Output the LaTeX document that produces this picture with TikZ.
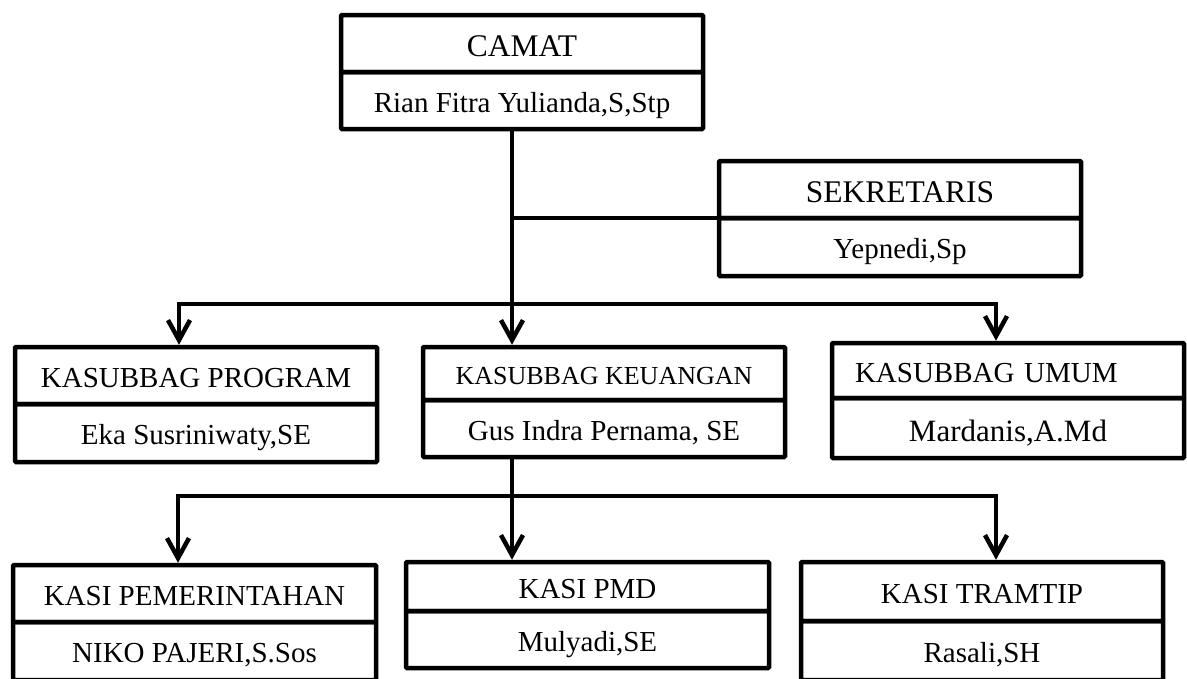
\documentclass[tikz,border=0pt]{standalone}
\usepackage{fontspec}
\setmainfont{Liberation Serif}
\usetikzlibrary{arrows.meta}
\begin{document}
\begin{tikzpicture}[x=1pt,y=-1pt,
  cell/.style={draw, line width=4.5pt, rounded corners=1pt, inner sep=0pt, outer sep=0pt,
    anchor=north west, font=\fontsize{29pt}{32pt}\selectfont, text height=23pt, text depth=0pt, align=center},
  big/.style={font=\fontsize{31.5pt}{34pt}\selectfont, text height=25pt},
  small/.style={font=\fontsize{26pt}{29pt}\selectfont, text height=21.5pt},
  conn/.style={line width=4.5pt},
  tip/.tip={Straight Barb[length=20pt,width=22pt,line width=4.5pt]},
  arr/.style={conn, -tip, shorten >=2.25pt},
  darr/.style={conn, tip-tip, shorten >=2.25pt, shorten <=2.25pt},
]
\useasboundingbox (0,0) rectangle (1187,678);
\clip (0,0) rectangle (1187,678);

% CAMAT
\node[cell, big, minimum width=362pt, minimum height=57pt] (camH) at (341,15) {CAMAT};
\node[cell, minimum width=362pt, minimum height=57pt] (camN) at (341,72) {Rian Fitra Yulianda,S,Stp};
% SEKRETARIS
\node[cell, big, minimum width=362pt, minimum height=57pt] (sekH) at (719,161) {SEKRETARIS};
\node[cell, minimum width=362pt, minimum height=58pt] (sekN) at (719,218) {Yepnedi,Sp};
% KASUBBAG PROGRAM
\node[cell, minimum width=362pt, minimum height=57pt] (proH) at (15,347) {KASUBBAG PROGRAM};
\node[cell, minimum width=362pt, minimum height=58pt] (proN) at (15,404) {Eka Susriniwaty,SE};
% KASUBBAG KEUANGAN
\node[cell, small, minimum width=362pt, minimum height=53pt] (keuH) at (423,347) {KASUBBAG KEUANGAN};
\node[cell, minimum width=362pt, minimum height=57pt] (keuN) at (423,400) {Gus Indra Pernama, SE};
% KASUBBAG UMUM
\node[cell, minimum height=55pt, text width=306pt, inner xsep=23pt, align=left] (umuH) at (832,343) {KASUBBAG UMUM};
\node[cell, font=\fontsize{31pt}{34pt}\selectfont, text height=27pt, minimum width=352pt, minimum height=60pt] (umuN) at (832,398) {Mardanis,A.Md};
% KASI PEMERINTAHAN
\node[cell, minimum width=363pt, minimum height=57pt] (pemH) at (13,565) {KASI PEMERINTAHAN};
\node[cell, minimum width=363pt, minimum height=58pt] (pemN) at (13,622) {NIKO PAJERI,S.Sos};
% KASI PMD
\node[cell, minimum width=363pt, minimum height=49pt] (pmdH) at (406,562) {KASI PMD};
\node[cell, minimum width=363pt, minimum height=57pt] (pmdN) at (406,611) {Mulyadi,SE};
% KASI TRAMTIP
\node[cell, minimum width=362pt, minimum height=59pt] (traH) at (801,562) {KASI TRAMTIP};
\node[cell, minimum width=362pt, minimum height=59pt] (traN) at (801,621) {Rasali,SH};

% connectors
\coordinate (trunk) at (512,0);
\coordinate (a1) at (179,304);
\coordinate (a2) at (996,304);
\coordinate (b1) at (178,496);
\coordinate (b2) at (996,496);

\draw[arr] (trunk |- camN.south) -- (trunk |- keuH.north);
\draw[conn] (trunk |- sekH.south west) -- (sekH.south west);
\draw[darr] (a1 |- proH.north) -- (a1) -- (a2) -- (a2 |- umuH.north);

\draw[arr] (trunk |- keuN.south) -- (trunk |- pmdH.north);
\draw[darr] (b1 |- pemH.north) -- (b1) -- (b2) -- (b2 |- traH.north);
\end{tikzpicture}
\end{document}
